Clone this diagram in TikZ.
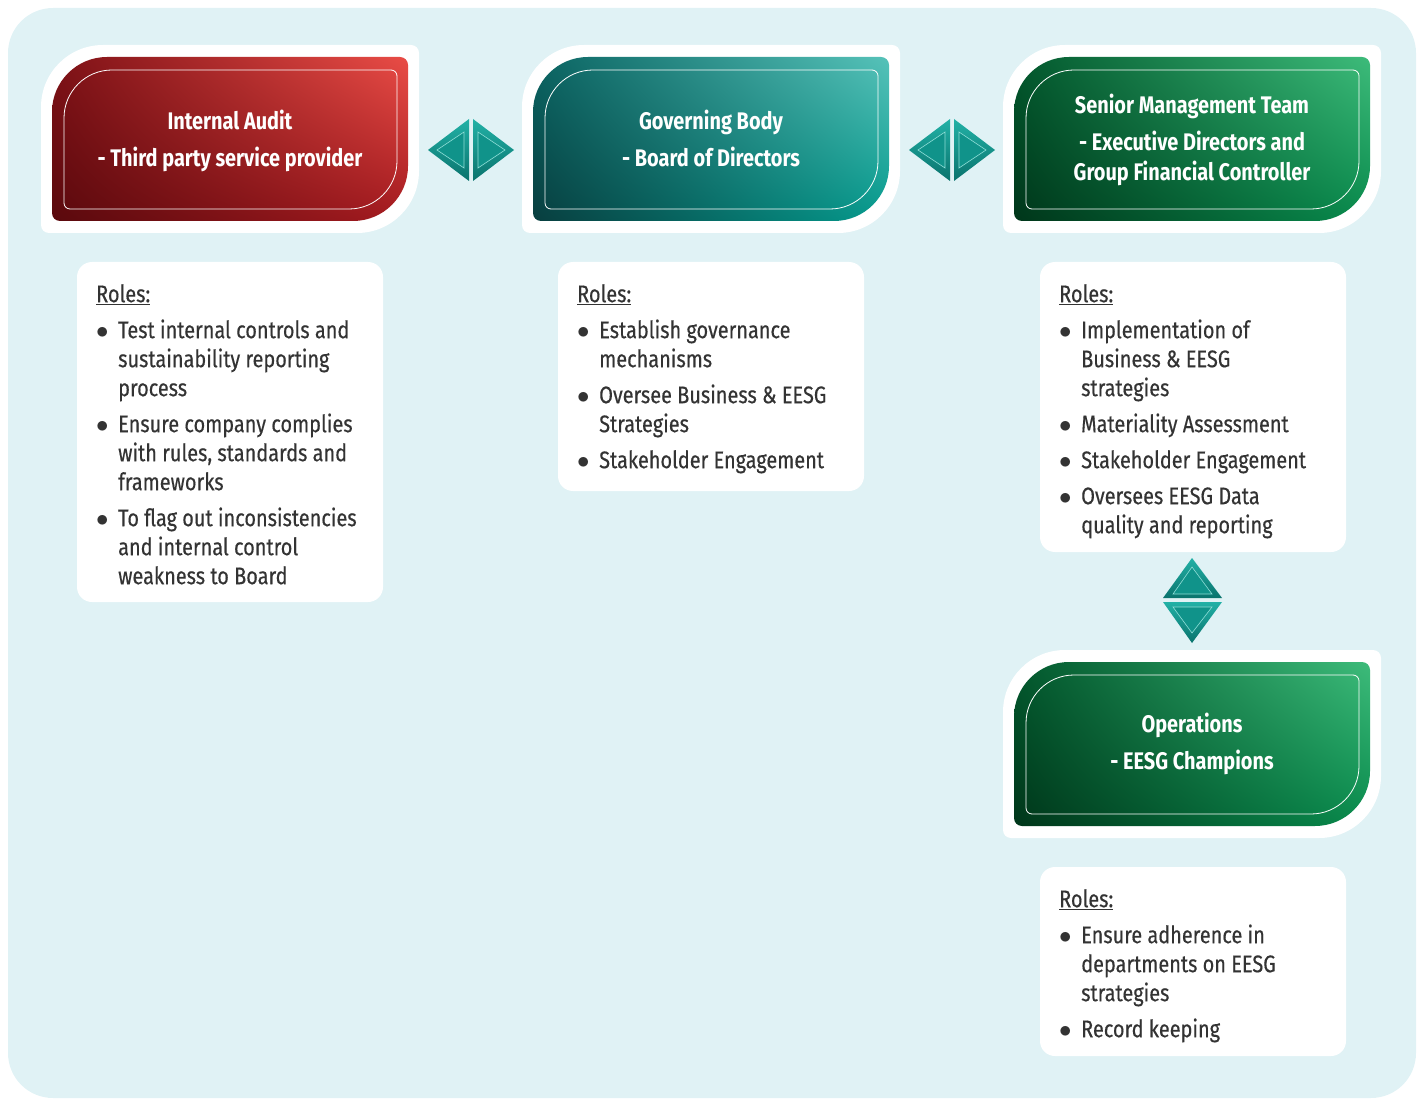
\documentclass[tikz,border=0pt]{standalone}
\usepackage{fontspec}
\setmainfont{Fira Sans}[FakeStretch=0.83, UprightFeatures={FakeBold=0.4}]
\usetikzlibrary{shadings}

\definecolor{bgcyan}{HTML}{E0F2F5}
\definecolor{rolegray}{HTML}{333333}
\definecolor{reddark}{HTML}{5A090D}
\definecolor{redshade}{HTML}{7E1116}
\definecolor{redmid}{HTML}{A31A1F}
\definecolor{redlight}{HTML}{E94C46}
\definecolor{tealdark}{HTML}{083E3F}
\definecolor{tealshade}{HTML}{0A6462}
\definecolor{tealmid}{HTML}{049A8D}
\definecolor{teallight}{HTML}{56C2B9}
\definecolor{greendark}{HTML}{00361A}
\definecolor{greenshade}{HTML}{02582D}
\definecolor{greenmid}{HTML}{088A4C}
\definecolor{greenlight}{HTML}{3DBB7A}
\definecolor{linklight}{HTML}{22B1A6}
\definecolor{linkdark}{HTML}{0A736D}
\definecolor{linkface}{HTML}{10938A}
\definecolor{linkline}{HTML}{8EDDD6}

% leaf outline: x1,y1 (top left), x2,y2 (bottom right), big radius, small radius
\newcommand{\leafpath}[6]{(#1,#2-#5) arc[start angle=180,end angle=90,radius=#5pt]
  -- (#3-#6,#2) arc[start angle=90,end angle=0,radius=#6pt]
  -- (#3,#4+#5) arc[start angle=0,end angle=-90,radius=#5pt]
  -- (#1+#6,#4) arc[start angle=270,end angle=180,radius=#6pt] -- cycle}

% white card, shaded box, thin outline
\newcommand{\headshape}[4]{%
  \fill[white] \leafpath{0}{0}{378}{-188}{62}{8};
  \shade[upper left=#2,upper right=#4,lower left=#1,lower right=#3] \leafpath{11}{-12}{367}{-176}{55}{8};
  \draw[white,line width=0.8pt] \leafpath{23}{-25}{356}{-164}{48}{6};}

\newcommand{\bul}{\makebox[22pt][l]{$\bullet$}}
\newcommand{\ind}{\hspace*{22pt}}

\tikzset{
  headtext/.style={text=white, align=center, inner sep=0pt, font=\fontsize{24}{30}\selectfont\bfseries},
  roletext/.style={anchor=north west, inner sep=0pt, align=left, text=rolegray, font=\fontsize{24}{29}\selectfont},
  rolebox/.style={fill=white, rounded corners=15pt},
}

\begin{document}
\begin{tikzpicture}[x=1pt, y=1pt]
  \useasboundingbox (0,0) rectangle (1424,-1099);
  % background
  \fill[bgcyan, rounded corners=45pt] (8,-8) rectangle (1416,-1098);

  % cards
  \begin{scope}[shift={(41,-45)}]
    \headshape{reddark}{redshade}{redmid}{redlight}
    \node[headtext] (audit) at (189,-97.5) {\strut Internal Audit\\[7pt]- Third party service provider\strut};
  \end{scope}
  \begin{scope}[shift={(522,-45)}]
    \headshape{tealdark}{tealshade}{tealmid}{teallight}
    \node[headtext] (board) at (189,-97.5) {\strut Governing Body\\[7pt]- Board of Directors\strut};
  \end{scope}
  \begin{scope}[shift={(1003,-45)}]
    \headshape{greendark}{greenshade}{greenmid}{greenlight}
    \node[headtext] (senior) at (189,-96.5) {\strut Senior Management Team\\[7pt]- Executive Directors and\\Group Financial Controller\strut};
  \end{scope}
  \begin{scope}[shift={(1003,-650)}]
    \headshape{greendark}{greenshade}{greenmid}{greenlight}
    \node[headtext] (ops) at (189,-94.5) {\strut Operations\\[7pt]- EESG Champions\strut};
  \end{scope}

  % links
  \foreach \cx in {471,952} {
    \begin{scope}[shift={(\cx,-150)}]
      \shade[top color=linklight, bottom color=linkdark] (-43,0) -- (-2,31) -- (-2,-31) -- cycle;
      \shade[top color=linklight, bottom color=linkdark] (2,31) -- (2,-31) -- (43,0) -- cycle;
      \fill[linkface] (-34,0) -- (-7,18) -- (-7,-18) -- cycle;
      \fill[linkface] (7,18) -- (7,-18) -- (34,0) -- cycle;
      \draw[linkline, line width=0.6pt] (-34,0) -- (-7,18) -- (-7,-18) -- cycle;
      \draw[linkline, line width=0.6pt] (7,18) -- (7,-18) -- (34,0) -- cycle;
    \end{scope}
  }
  \begin{scope}[shift={(1192,-600)}]
    \shade[top color=linklight, bottom color=linkdark] (0,42) -- (-29,2) -- (30,2) -- cycle;
    \shade[top color=linklight, bottom color=linkdark] (-29,-2) -- (30,-2) -- (0,-43) -- cycle;
    \fill[linkface] (0,33) -- (-19,6) -- (20,6) -- cycle;
    \fill[linkface] (-19,-7) -- (20,-7) -- (0,-33) -- cycle;
    \draw[linkline, line width=0.6pt] (0,33) -- (-19,6) -- (20,6) -- cycle;
    \draw[linkline, line width=0.6pt] (-19,-7) -- (20,-7) -- (0,-33) -- cycle;
  \end{scope}

  % roles
  \fill[rolebox] (77,-262) rectangle (383,-602);
  \fill[rolebox] (558,-262) rectangle (864,-491);
  \fill[rolebox] (1040,-262) rectangle (1346,-552);
  \fill[rolebox] (1040,-867) rectangle (1346,-1056);

  \node[roletext] (audit-roles) at (96,-284) {\underline{Roles:}\\[7pt]
    \bul Test internal controls and\\ \ind sustainability reporting\\ \ind process\\[7pt]
    \bul Ensure company complies\\ \ind with rules, standards and\\ \ind frameworks\\[7pt]
    \bul To flag out inconsistencies\\ \ind and internal control\\ \ind weakness to Board};
  \node[roletext] (board-roles) at (577,-284) {\underline{Roles:}\\[7pt]
    \bul Establish governance\\ \ind mechanisms\\[7pt]
    \bul Oversee Business \& EESG\\ \ind Strategies\\[7pt]
    \bul Stakeholder Engagement};
  \node[roletext] (senior-roles) at (1059,-284) {\underline{Roles:}\\[7pt]
    \bul Implementation of\\ \ind Business \& EESG\\ \ind strategies\\[7pt]
    \bul Materiality Assessment\\[7pt]
    \bul Stakeholder Engagement\\[7pt]
    \bul Oversees EESG Data\\ \ind quality and reporting};
  \node[roletext] (ops-roles) at (1059,-889) {\underline{Roles:}\\[7pt]
    \bul Ensure adherence in\\ \ind departments on EESG\\ \ind strategies\\[7pt]
    \bul Record keeping};
\end{tikzpicture}
\end{document}
